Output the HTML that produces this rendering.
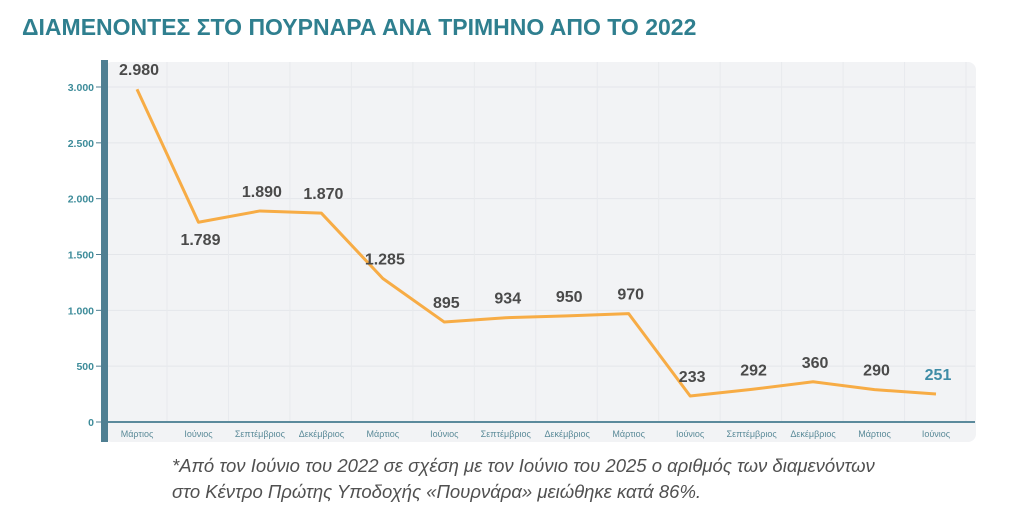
<!DOCTYPE html>
<html><head><meta charset="utf-8"><style>
body{margin:0;width:1024px;height:507px;background:#fff;font-family:"Liberation Sans",sans-serif;overflow:hidden}
#title{position:absolute;left:22px;top:14px;font-size:23px;font-weight:bold;color:#2f7f8f;letter-spacing:0}
#note{position:absolute;left:172px;top:453px;font-size:18.5px;font-style:italic;color:#505050;line-height:26px}
svg{position:absolute;left:0;top:0}
</style></head><body>
<div id="title">ΔΙΑΜΕΝΟΝΤΕΣ ΣΤΟ ΠΟΥΡΝΑΡΑ ΑΝΑ ΤΡΙΜΗΝΟ ΑΠΟ ΤΟ 2022</div>
<svg id="chart" width="1024" height="507"></svg>
<div id="note">*Από τον Ιούνιο του 2022 σε σχέση με τον Ιούνιο του 2025 ο αριθμός των διαμενόντων<br>στο Κέντρο Πρώτης Υποδοχής «Πουρνάρα» μειώθηκε κατά 86%.</div>
<script>
const categories=["Μάρτιος","Ιούνιος","Σεπτέμβριος","Δεκέμβριος","Μάρτιος","Ιούνιος","Σεπτέμβριος","Δεκέμβριος","Μάρτιος","Ιούνιος","Σεπτέμβριος","Δεκέμβριος","Μάρτιος","Ιούνιος"];
const values=[2980,1789,1890,1870,1285,895,934,950,970,233,292,360,290,251];
const valueLabels=["2.980","1.789","1.890","1.870","1.285","895","934","950","970","233","292","360","290","251"];
const yTicks=[0,500,1000,1500,2000,2500,3000];
const yTickLabels=["0","500","1.000","1.500","2.000","2.500","3.000"];
const NS="http://www.w3.org/2000/svg";
const svg=document.getElementById('chart');
function mk(t,a){const e=document.createElementNS(NS,t);for(const k in a)e.setAttribute(k,a[k]);svg.appendChild(e);return e;}
const x0=137,x1=936,yBase=422,yTop=87;
const xs=i=>x0+(x1-x0)*i/(categories.length-1);
const ys=v=>yBase-(yBase-yTop)*v/3000;
let e=mk('rect',{x:104,y:62,width:872,height:380,rx:8,fill:'#f2f3f5'});

e=mk('rect',{x:101,y:60,width:7,height:382,fill:'#4f7f92'});

yTicks.forEach((t,i)=>{
 if(t>0){const g=mk('line',{x1:108,x2:975,y1:ys(t),y2:ys(t),stroke:'#e4e6ea','stroke-width':1});
 }
 const tk=mk('line',{x1:96,x2:101,y1:ys(t),y2:ys(t),stroke:'#4f7f92','stroke-width':1});
 
 const l=mk('text',{x:94,y:ys(t)+4,'text-anchor':'end','font-size':10.5,'font-weight':'bold',fill:'#3e8c9a'});
 l.textContent=yTickLabels[i];
 
});
categories.forEach((c,i)=>{
 const g=mk('line',{x1:xs(i)+30,x2:xs(i)+30,y1:62,y2:422,stroke:'#e8eaed','stroke-width':1});
 
 const l=mk('text',{x:xs(i),y:437,'text-anchor':'middle','font-size':9,fill:'#5a8a98'});
 l.textContent=c;
 
});
e=mk('line',{x1:108,x2:975,y1:yBase,y2:yBase,stroke:'#5b8a9c','stroke-width':2});

const pts=values.map((v,i)=>xs(i)+','+ys(v)).join(' ');
e=mk('polyline',{points:pts,fill:'none',stroke:'#f7ac45','stroke-width':3,'stroke-linejoin':'round'});

values.forEach((v,i)=>{
 const below=(i===1);
 const last=i===values.length-1;
 const l=mk('text',{x:xs(i)+2,y:below?ys(v)+23:ys(v)-14,'text-anchor':'middle','font-size':16,'font-weight':'bold',fill:last?'#3e8ca6':'#4a4a4a'});
 l.textContent=valueLabels[i];
 
});
</script>
</body></html>
